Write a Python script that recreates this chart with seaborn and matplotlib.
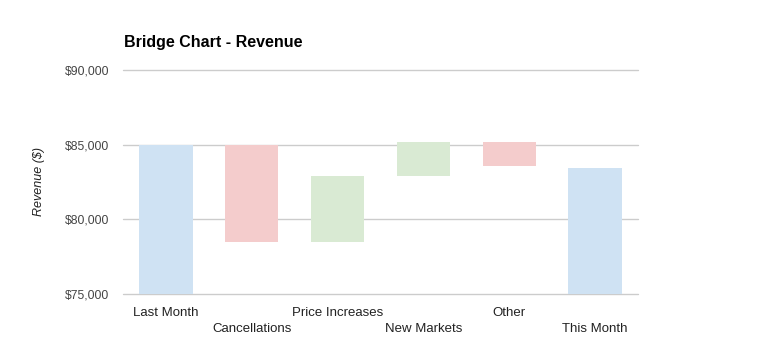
import matplotlib
matplotlib.use("Agg")
import matplotlib.pyplot as plt
import seaborn as sns

# ── Data ─────────────────────────────────────────────────────────────────────
categories = ["Last Month", "Cancellations", "Price Increases",
              "New Markets", "Other", "This Month"]
bar_bottoms = [75000, 78500, 78500, 82900, 83550, 75000]
bar_tops    = [85000, 85000, 82900, 85150, 85150, 83450]
bar_colors  = ["#cfe2f3", "#f4cccc", "#d9ead3", "#d9ead3", "#f4cccc", "#cfe2f3"]
y_ticks     = [75000, 80000, 85000, 90000]

heights = [t - b for t, b in zip(bar_tops, bar_bottoms)]

sns.set_theme(style="white")
plt.rcParams["font.family"] = ["Liberation Sans", "DejaVu Sans"]

fig = plt.figure(figsize=(7.63, 3.64), dpi=100)
ax = fig.add_axes([123 / 763, 70 / 364, 515 / 763, 224 / 364])

sns.barplot(x=categories, y=heights, bottom=bar_bottoms, width=0.62,
            color=bar_colors[0], linewidth=0, ax=ax, zorder=2)
for patch, c in zip(ax.patches, bar_colors):
    patch.set_facecolor(c)
    patch.set_edgecolor("none")

ax.set_xlim(-0.5, len(categories) - 0.5)
ax.set_ylim(75000, 90000)
ax.set_yticks(y_ticks)
ax.set_yticklabels([f"${v:,}" for v in y_ticks], color="#444444", fontsize=8.7)
ax.yaxis.grid(True, color="#cccccc", linewidth=1, zorder=0)
for gl in ax.get_ygridlines():
    gl.set_clip_on(False)
ax.set_axisbelow(True)
ax.tick_params(axis="both", length=0)
ax.tick_params(axis="y", pad=10)

# staggered category labels
ax.set_xticks(range(len(categories)))
ax.set_xticklabels([c if i % 2 == 0 else "\n" + c for i, c in enumerate(categories)],
                   fontsize=9.5, color="#222222", linespacing=1.55)
ax.tick_params(axis="x", pad=9)

for side in ["top", "right", "left", "bottom"]:
    ax.spines[side].set_visible(False)

ax.set_xlabel("")
ax.set_ylabel("Revenue ($)", fontsize=9, style="italic", color="#222222", labelpad=14)

fig.text(124 / 763, 1 - 42 / 364, "Bridge Chart - Revenue",
         fontsize=11.5, fontweight="bold", color="#000000", va="center", ha="left")

fig.savefig("out.png", dpi=100)
